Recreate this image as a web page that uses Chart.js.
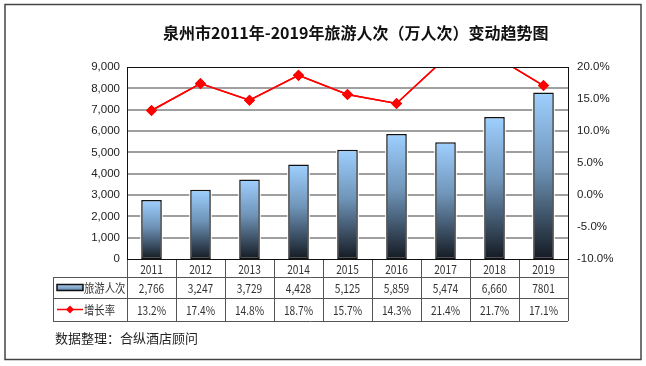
<!DOCTYPE html>
<html>
<head>
<meta charset="utf-8">
<script src="https://cdn.jsdelivr.net/npm/chart.js@4/dist/chart.umd.min.js"></script>
<style>
  html, body { margin: 0; padding: 0; background: #fff; }
  #wrap { width: 646px; height: 366px; }
</style>
</head>
<body>
<div id="wrap"><canvas id="chart" width="646" height="366"></canvas></div>
<script>
// Chart data
const years = ["2011", "2012", "2013", "2014", "2015", "2016", "2017", "2018", "2019"];
const visitors = [2766, 3247, 3729, 4428, 5125, 5859, 5474, 6660, 7801];
const visitorLabels = ["2,766", "3,247", "3,729", "4,428", "5,125", "5,859", "5,474", "6,660", "7801"];
const growth = [13.2, 17.4, 14.8, 18.7, 15.7, 14.3, 21.4, 21.7, 17.1];
const visitorTicks = [1000, 2000, 3000, 4000, 5000, 6000, 7000, 8000];

const titleText = "泉州市2011年-2019年旅游人次（万人次）变动趋势图";
const sourceText = "数据整理：合纵酒店顾问";
const seriesNames = ["旅游人次", "增长率"];

const CJK = '"Noto Sans CJK SC", "Noto Sans", sans-serif';
const LAT = '"Liberation Sans", Arial, sans-serif';

/**
 * Vertical gradient light blue -> near black
 */
function barGradient(ctx, top, bottom) {
  const g = ctx.createLinearGradient(0, top, 0, bottom);
  g.addColorStop(0, "#9fd0ff");
  g.addColorStop(0.45, "#6f94b8");
  g.addColorStop(1, "#141a22");
  return g;
}

/**
 * Draw condensed text (the table text in the reference is narrow)
 */
function narrowText(ctx, text, x, y, sx) {
  ctx.save();
  ctx.translate(x, y);
  ctx.scale(sx, 1);
  ctx.fillText(text, 0, 0);
  ctx.restore();
}

/**
 * Horizontal gridlines, broken where a bar stands in front of them,
 * then the growth line is drawn again on top
 */
function drawGrid(chart) {
  const ctx = chart.ctx;
  const y = chart.scales.y;
  const area = chart.chartArea;
  const bars = chart.getDatasetMeta(1).data.map((el) => el.getProps(["x", "y", "width"], true));

  ctx.save();
  ctx.strokeStyle = "#808080";
  ctx.lineWidth = 1.5;
  visitorTicks.forEach((v) => {
    let py = y.getPixelForValue(v);
    if (!isFinite(py)) py = area.bottom - (v / 9000) * (area.bottom - area.top);
    py = Math.round(py);
    const gaps = bars
      .filter((b) => py > b.y - 1)
      .map((b) => [b.x - b.width / 2 - 1, b.x + b.width / 2 + 1])
      .sort((a, b) => a[0] - b[0]);
    let start = area.left;
    ctx.beginPath();
    gaps.forEach(([g0, g1]) => {
      if (g0 > start) {
        ctx.moveTo(start, py);
        ctx.lineTo(g0, py);
      }
      start = Math.max(start, g1);
    });
    if (start < area.right) {
      ctx.moveTo(start, py);
      ctx.lineTo(area.right, py);
    }
    ctx.stroke();
  });
  ctx.restore();

  // growth line back on top of the grid
  try {
    ctx.save();
    ctx.beginPath();
    ctx.rect(area.left, area.top, area.right - area.left, area.bottom - area.top);
    ctx.clip();
    chart.getDatasetMeta(0).controller.draw();
    ctx.restore();
  } catch (e) {
    ctx.restore();
  }
}

/**
 * Title, data table, source note and outer frame
 */
const decorPlugin = {
  id: "decor",
  afterDraw(chart) {
    drawGrid(chart);

    const ctx = chart.ctx;
    const x = chart.scales.x;
    const area = chart.chartArea;
    const step = (area.right - area.left) / years.length;
    const tableLeft = 53;
    const rows = [area.bottom, 277, 298, 321];

    ctx.save();

    // title
    ctx.fillStyle = "#111";
    ctx.font = "bold 16px " + CJK;
    ctx.textAlign = "left";
    ctx.textBaseline = "middle";
    ctx.fillText(titleText, 163, 33);

    // table grid
    ctx.strokeStyle = "#555";
    ctx.lineWidth = 1;
    ctx.beginPath();
    for (let i = 1; i < rows.length; i++) {
      ctx.moveTo(tableLeft, rows[i] + 0.5);
      ctx.lineTo(area.right, rows[i] + 0.5);
    }
    ctx.moveTo(tableLeft + 0.5, rows[1]);
    ctx.lineTo(tableLeft + 0.5, rows[3]);
    for (let i = 0; i <= years.length; i++) {
      const px = Math.round(area.left + i * step) + 0.5;
      ctx.moveTo(px, rows[0]);
      ctx.lineTo(px, rows[3]);
    }
    ctx.stroke();

    // table text
    ctx.fillStyle = "#333";
    ctx.font = "12px " + CJK;
    ctx.textAlign = "center";
    years.forEach((yr, i) => {
      const cx = x.getPixelForValue(i);
      narrowText(ctx, yr, cx, (rows[0] + rows[1]) / 2 + 1, 0.85);
      narrowText(ctx, visitorLabels[i], cx, (rows[1] + rows[2]) / 2 + 1, 0.85);
      narrowText(ctx, growth[i].toFixed(1) + "%", cx, (rows[2] + rows[3]) / 2 + 1, 0.85);
    });

    // legend keys in table
    const y1 = (rows[1] + rows[2]) / 2;
    const y2 = (rows[2] + rows[3]) / 2;
    const kg = ctx.createLinearGradient(0, y1 - 3, 0, y1 + 3);
    kg.addColorStop(0, "#a9cdee");
    kg.addColorStop(1, "#5f86ad");
    ctx.fillStyle = kg;
    ctx.strokeStyle = "#111";
    ctx.lineWidth = 1.5;
    ctx.beginPath();
    ctx.rect(57, y1 - 3, 26, 6);
    ctx.fill();
    ctx.stroke();

    ctx.strokeStyle = "#ff0000";
    ctx.lineWidth = 1.5;
    ctx.beginPath();
    ctx.moveTo(57, y2);
    ctx.lineTo(83, y2);
    ctx.stroke();
    ctx.fillStyle = "#ff0000";
    ctx.beginPath();
    ctx.moveTo(70, y2 - 4);
    ctx.lineTo(74, y2);
    ctx.lineTo(70, y2 + 4);
    ctx.lineTo(66, y2);
    ctx.closePath();
    ctx.fill();

    ctx.fillStyle = "#333";
    ctx.textAlign = "left";
    ctx.font = "12px " + CJK;
    narrowText(ctx, seriesNames[0], 84, y1 + 1, 0.86);
    narrowText(ctx, seriesNames[1], 84, y2 + 1, 0.86);

    // source note
    ctx.fillStyle = "#222";
    ctx.font = "13px " + CJK;
    ctx.fillText(sourceText, 55, 338);

    // plot frame
    ctx.strokeStyle = "#111";
    ctx.lineWidth = 1;
    ctx.strokeRect(area.left + 0.5, area.top + 0.5, area.right - area.left, area.bottom - area.top);

    // outer frame
    ctx.strokeStyle = "#444";
    ctx.lineWidth = 1.5;
    ctx.strokeRect(5, 4.5, 636, 355);

    ctx.restore();
  },
};

const ctx = document.getElementById("chart").getContext("2d");

new Chart(ctx, {
  type: "bar",
  data: {
    labels: years,
    datasets: [
      {
        type: "line",
        label: seriesNames[1],
        data: growth,
        yAxisID: "y1",
        borderColor: "#ff0000",
        backgroundColor: "#ff0000",
        borderWidth: 1.5,
        pointStyle: "rectRot",
        pointRadius: 4.5,
        pointHoverRadius: 4.5,
        tension: 0,
        order: 0,
      },
      {
        type: "bar",
        label: seriesNames[0],
        data: visitors,
        yAxisID: "y",
        backgroundColor: (c) => {
          const chart = c.chart;
          const y = chart.scales.y;
          if (!y || c.dataIndex === undefined) return "#6f94b8";
          const top = y.getPixelForValue(visitors[c.dataIndex]);
          const base = y.getPixelForValue(0);
          if (!isFinite(top) || !isFinite(base) || top === base) return "#6f94b8";
          return barGradient(chart.ctx, top, base);
        },
        borderColor: "#111",
        borderWidth: 1.5,
        borderSkipped: false,
        barPercentage: 0.42,
        categoryPercentage: 1,
        order: 1,
      },
    ],
  },
  options: {
    responsive: false,
    animation: false,
    events: [],
    layout: {
      padding: { top: 67, bottom: 366 - 259, left: 0, right: 0 },
    },
    plugins: {
      legend: { display: false },
      tooltip: { enabled: false },
    },
    scales: {
      x: {
        display: false,
        offset: true,
        grid: { display: false },
      },
      y: {
        position: "left",
        min: 0,
        max: 9000,
        afterFit: (s) => { s.width = 127; },
        ticks: {
          stepSize: 1000,
          color: "#222",
          padding: 7,
          font: { family: LAT, size: 11.5 },
          callback: (v) => v.toLocaleString("en-US"),
        },
        grid: { display: false, drawTicks: false },
        border: { display: false },
      },
      y1: {
        position: "right",
        min: -10,
        max: 20,
        afterFit: (s) => { s.width = 646 - 568; },
        ticks: {
          stepSize: 5,
          color: "#222",
          padding: 9,
          font: { family: LAT, size: 11.5 },
          callback: (v) => v.toFixed(1) + "%",
        },
        grid: { display: false, drawTicks: false },
        border: { display: false },
      },
    },
  },
  plugins: [decorPlugin],
});
</script>
</body>
</html>
